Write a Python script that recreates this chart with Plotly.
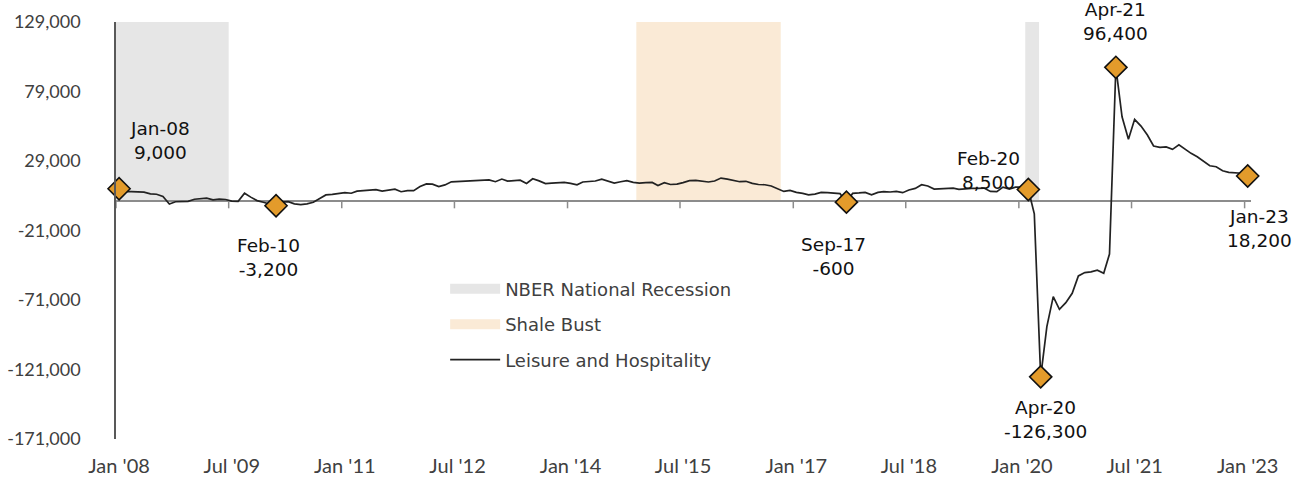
import pandas as pd
import plotly.graph_objects as go

# Year-over-year change in leisure and hospitality employment, monthly Jan 2008 - Jan 2023
start_month = "2008-01-01"
yoy_change = [
    9000, 6900, 6900, 6800, 6600, 5300, 5100, 3500, -1900, -300, -200, 0,          # 2008
    1500, 2200, 2300, 1000, 1600, 1300, 200, 0, 5800, 3000, 500, -700,            # 2009
    -2000, -3200, -500, -200, -1800, -2400, -1800, -700, 2000, 4600, 5000, 5800,  # 2010
    6200, 5800, 7300, 7700, 8000, 8400, 7400, 8000, 8700, 6900, 7700, 7700,       # 2011
    10600, 12500, 12300, 10600, 11800, 14000, 14200, 14200, 14300, 14500, 14900, 15400,  # 2012
    14100, 16000, 14500, 15000, 15200, 12800, 16200, 14700, 12800, 13100, 13100, 13600,  # 2013
    12900, 11900, 13900, 14100, 14600, 16000, 14600, 13100, 14100, 14900, 13600, 13100,  # 2014
    13400, 13600, 11400, 13400, 12100, 12400, 13400, 14900, 15100, 14600, 13900, 14600,  # 2015
    16700, 16000, 15100, 14100, 14400, 12900, 12100, 11900, 11000, 8800, 7100, 7900,     # 2016
    6400, 5700, 4700, 5200, 6400, 6200, 6000, 5500, -600, 5700, 6000, 6400,              # 2017
    4700, 6400, 6900, 6700, 7100, 6200, 8100, 9300, 11900, 11000, 8800, 9100,           # 2018
    9300, 9500, 8600, 9100, 9300, 9300, 9500, 7100, 6900, 10200, 8800, 10200,           # 2019
    10200, 8500, -9000, -126300, -90200, -68600, -77700, -72900, -66200, -53700, -51300, -50800,  # 2020
    -49600, -51800, -37900, 96400, 60800, 44600, 59000, 54100, 47700, 39800, 38800, 39100,  # 2021
    37400, 40700, 37600, 34500, 32100, 29000, 25600, 24900, 22000, 20800, 20300, 20200,    # 2022
    18200,                                                                                 # 2023
]

# Highlighted months carrying a value callout
callout_months = ["2008-01", "2010-02", "2017-09", "2020-02", "2020-04", "2021-04", "2023-01"]
# Pixel offsets of each callout text relative to its marker
callout_shift = [(41, 48), (-8, -52), (-13, -54), (-40, 19), (5, -43), (0, 46), (12, -52)]

recession_periods = [("2008-01-01", "2009-07-01"), ("2020-02-01", "2020-04-08")]
shale_bust_periods = [("2014-12-01", "2016-11-01")]

tick_months = ["2008-01-01", "2009-07-01", "2011-01-01", "2012-07-01", "2014-01-01", "2015-07-01",
               "2017-01-01", "2018-07-01", "2020-01-01", "2021-07-01", "2023-01-01"]
tick_labels = ["Jan '08", "Jul '09", "Jan '11", "Jul '12", "Jan '14", "Jul '15",
               "Jan '17", "Jul '18", "Jan '20", "Jul '21", "Jan '23"]

y_ticks = [-171000, -121000, -71000, -21000, 29000, 79000, 129000]
y_tick_labels = [f"{v:,}" for v in y_ticks]

AXIS_FONT = "Lato"
TEXT_FONT = "DejaVu Sans"
GREY_FILL = "#E6E6E6"
SHALE_FILL = "#FAEAD6"
MARKER_FILL = "#E39B2B"
AXIS_GREY = "#8C8C8C"

month_starts = pd.date_range(start_month, periods=len(yoy_change), freq="MS")
month_mid = month_starts + pd.Timedelta(days=15)
series = pd.Series(yoy_change, index=month_starts)


def iso(ts):
    return pd.Timestamp(ts).strftime("%Y-%m-%d")


y_range = [y_ticks[0], y_ticks[-1]]
x_range = ["2008-01-01", "2023-02-01"]

fig = go.Figure()

# Shaded periods: columns rising from the zero line to the top of the value axis
for periods, colour in ((recession_periods, GREY_FILL), (shale_bust_periods, SHALE_FILL)):
    for x0, x1 in periods:
        fig.add_shape(type="rect", xref="x", yref="y", x0=x0, x1=x1, y0=0, y1=y_range[1],
                      fillcolor=colour, line_width=0, layer="below")

# Small tick marks hanging below the zero line
for t in tick_months:
    fig.add_shape(type="line", xref="x", yref="y", x0=t, x1=t, y0=0, y1=-7,
                  ysizemode="pixel", yanchor=0, line=dict(color=AXIS_GREY, width=1.5))

# Main series
fig.add_trace(go.Scatter(x=[iso(d) for d in month_mid], y=yoy_change, mode="lines",
                         name="Leisure and Hospitality",
                         line=dict(color="#222222", width=1.7), legendgroup="c", legendrank=3))

# Legend entries for the shaded periods
fig.add_trace(go.Scatter(x=[None], y=[None], mode="lines", name="NBER National Recession",
                         line=dict(color=GREY_FILL, width=16), legendgroup="a", legendrank=1))
fig.add_trace(go.Scatter(x=[None], y=[None], mode="lines", name="Shale Bust",
                         line=dict(color=SHALE_FILL, width=16), legendgroup="b", legendrank=2))

# Callout markers
c_idx = pd.to_datetime(callout_months)
c_vals = [int(series.loc[d]) for d in c_idx]
c_x = [iso(d + pd.Timedelta(days=15)) for d in c_idx]
fig.add_trace(go.Scatter(x=c_x, y=c_vals, mode="markers", showlegend=False, cliponaxis=False,
                         marker=dict(symbol="diamond", size=17, color=MARKER_FILL,
                                     line=dict(color="#111111", width=1.6))))

for d, xv, v, (dx, dy) in zip(c_idx, c_x, c_vals, callout_shift):
    fig.add_annotation(x=xv, y=v, xref="x", yref="y", text=f"{d.strftime('%b-%y')}<br>{v:,}",
                       showarrow=False, xshift=dx, yshift=dy,
                       font=dict(family=TEXT_FONT, size=18.5, color="#111111"))

fig.update_layout(
    width=1302, height=479,
    margin=dict(l=116, r=51, t=22, b=40),
    paper_bgcolor="white", plot_bgcolor="white",
    font=dict(family=AXIS_FONT, size=17, color="#404040"),
    xaxis=dict(type="date", range=x_range, showgrid=False, zeroline=False, showline=False,
               automargin=False,
               tickvals=[iso(pd.Timestamp(t) + pd.Timedelta(days=15)) for t in tick_months],
               ticktext=tick_labels, ticks="", ticklabelstandoff=13,
               tickfont=dict(family=AXIS_FONT, size=20, color="#404040")),
    yaxis=dict(range=y_range, showgrid=False, showline=True, automargin=False,
               zeroline=True, zerolinecolor=AXIS_GREY, zerolinewidth=2,
               linecolor="#595959", linewidth=1.5, ticks="",
               tickvals=y_ticks, ticktext=y_tick_labels, ticklabelstandoff=30,
               tickfont=dict(family=AXIS_FONT, size=18, color="#404040")),
    legend=dict(x=0.29, y=0.404, xanchor="left", yanchor="top", bgcolor="rgba(0,0,0,0)",
                traceorder="grouped", tracegroupgap=9, itemwidth=50,
                font=dict(family=TEXT_FONT, size=18, color="#404040")),
    showlegend=True,
)

fig.write_html("out.html")
